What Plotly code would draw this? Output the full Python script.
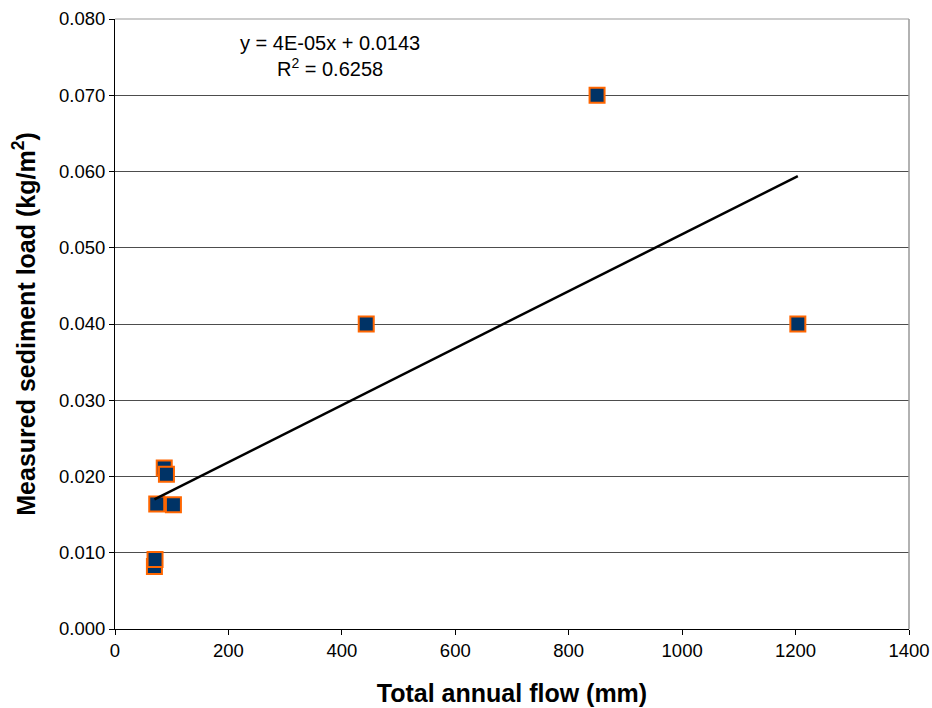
import numpy as np
import plotly.graph_objects as go

# Data
flow_mm = [69.5, 70.6, 86.8, 90.7, 73.6, 103.0, 443.0, 850.0, 1204.0]
sediment_kg_m2 = [0.0082, 0.0091, 0.0211, 0.0203, 0.0164, 0.0163, 0.040, 0.070, 0.040]

x_ticks = [0, 200, 400, 600, 800, 1000, 1200, 1400]
y_ticks = [0.000, 0.010, 0.020, 0.030, 0.040, 0.050, 0.060, 0.070, 0.080]

equation_text = "y = 4E-05x + 0.0143<br>R<sup>2</sup> = 0.6258"

# Linear trendline fitted to the data
slope, intercept = np.polyfit(flow_mm, sediment_kg_m2, 1)
trend_x = [min(flow_mm), max(flow_mm)]
trend_y = [slope * v + intercept for v in trend_x]

FONT = "Liberation Sans, Arial, sans-serif"

fig = go.Figure()
fig.add_trace(go.Scatter(
    x=flow_mm, y=sediment_kg_m2, mode="markers",
    marker=dict(symbol="square", size=15, color="#003366",
                line=dict(color="#FF6600", width=2)),
    showlegend=False, hoverinfo="x+y"))
fig.add_trace(go.Scatter(
    x=trend_x, y=trend_y, mode="lines",
    line=dict(color="black", width=2.5), showlegend=False))

fig.update_layout(
    width=932, height=708,
    margin=dict(l=115, r=23, t=19, b=79),
    paper_bgcolor="white", plot_bgcolor="white",
    font=dict(family=FONT, color="black", size=18),
    xaxis=dict(
        range=[0, 1400], tickvals=x_ticks, ticktext=[str(v) for v in x_ticks],
        automargin=False,
        showgrid=False, zeroline=False, showline=True, linecolor="black", linewidth=1,
        ticks="outside", ticklen=5, tickcolor="black",
        tickfont=dict(size=18.5),
        title=dict(text="<b>Total annual flow (mm)</b>", font=dict(size=25), standoff=24)),
    yaxis=dict(
        range=[0, 0.08], tickvals=y_ticks, ticktext=[f"{v:.3f}" for v in y_ticks],
        automargin=False,
        showgrid=True, gridcolor="#4d4d4d", gridwidth=1,
        zeroline=False, showline=True, linecolor="black", linewidth=1,
        ticks="outside", ticklen=5, tickcolor="black",
        tickfont=dict(size=18.5),
        title=dict(text="<b>Measured sediment load (kg/m<sup>2</sup>)</b>", font=dict(size=25), standoff=16)),
    annotations=[dict(
        text=equation_text, xref="paper", yref="paper", x=0.271, y=0.939,
        xanchor="center", yanchor="middle", align="center", showarrow=False,
        font=dict(size=20, family=FONT, color="black"))],
    shapes=[
        dict(type="line", xref="paper", yref="paper", x0=1, x1=1, y0=0, y1=1,
             line=dict(color="#999999", width=1.5)),
        dict(type="line", xref="paper", yref="paper", x0=0, x1=1, y0=1, y1=1,
             line=dict(color="#999999", width=1)),
    ],
)

fig.write_html("out.html")
